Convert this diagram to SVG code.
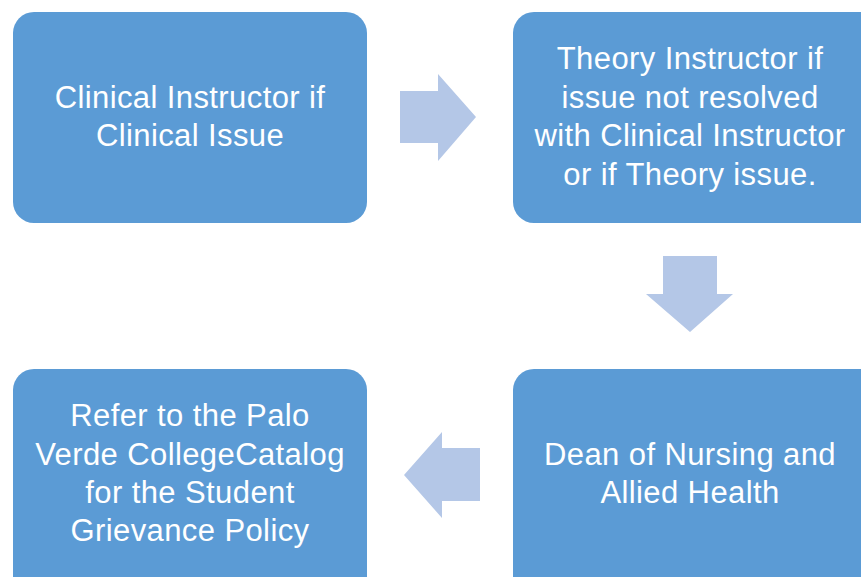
<svg xmlns="http://www.w3.org/2000/svg" width="861" height="577" viewBox="0 0 861 577">
<style>
.box{fill:#5B9BD5}
.arr{fill:#B4C7E7}
.t{font-family:"Liberation Sans",Arial,sans-serif;font-size:31px;letter-spacing:0.4px;fill:#FFFFFF;text-anchor:middle}
</style>
<rect width="861" height="577" fill="#FFFFFF"/>
<g id="connectors">
<polygon class="arr" points="400,91 438,91 438,74 476,117 438,161 438,143 400,143"/>
<polygon class="arr" points="663,256 717,256 717,294 733,294 690,332 646,294 663,294"/>
<polygon class="arr" points="480,448 442,448 442,432 404,475 442,518 442,501 480,501"/>
</g>
<g id="node1">
<rect class="box" x="13" y="12" width="354" height="211" rx="21"/>
<text class="t" x="190" y="108">Clinical Instructor if</text>
<text class="t" x="190" y="146">Clinical Issue</text>
</g>
<g id="node2">
<rect class="box" x="513" y="12" width="369" height="211" rx="21"/>
<text class="t" x="690" y="69">Theory Instructor if</text>
<text class="t" x="690" y="108">issue not resolved</text>
<text class="t" x="690" y="146">with Clinical Instructor</text>
<text class="t" x="690" y="185">or if Theory issue.</text>
</g>
<g id="node3">
<rect class="box" x="513" y="369" width="369" height="230" rx="21"/>
<text class="t" x="690" y="465">Dean of Nursing and</text>
<text class="t" x="690" y="503">Allied Health</text>
</g>
<g id="node4">
<rect class="box" x="13" y="369" width="354" height="230" rx="21"/>
<text class="t" x="190" y="426">Refer to the Palo</text>
<text class="t" x="190" y="465">Verde CollegeCatalog</text>
<text class="t" x="190" y="503">for the Student</text>
<text class="t" x="190" y="541">Grievance Policy</text>
</g>
</svg>
